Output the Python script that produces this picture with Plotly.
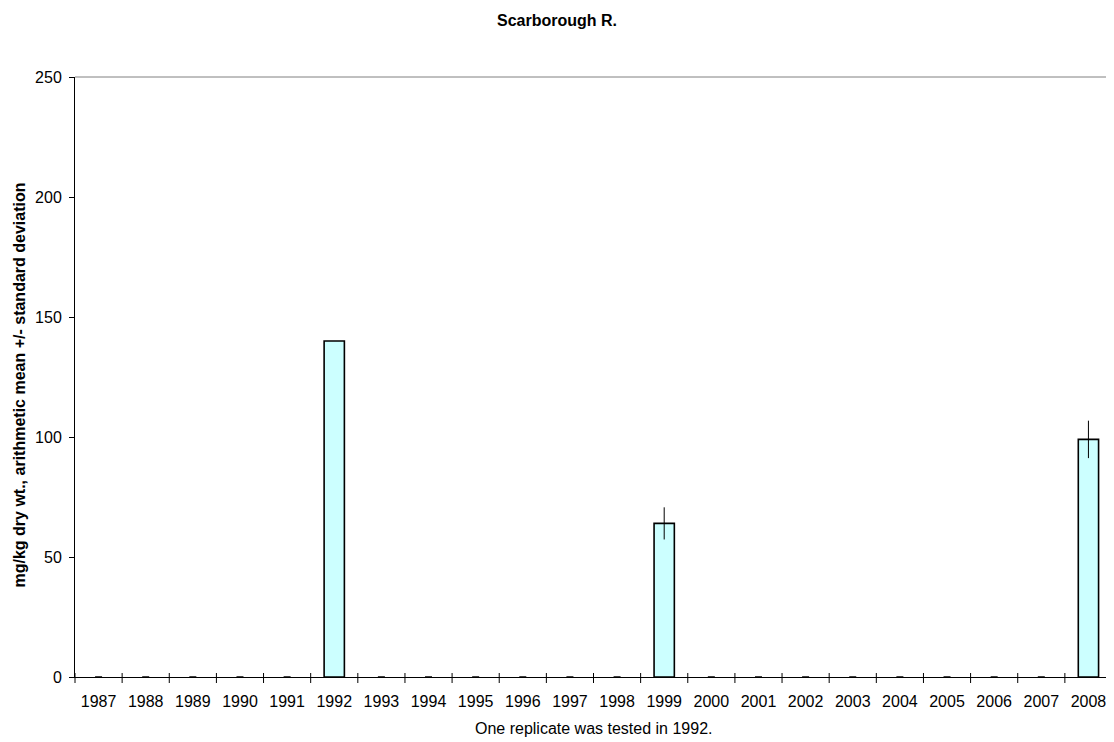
import plotly.graph_objects as go

years = [str(y) for y in range(1987, 2009)]
means = [0, 0, 0, 0, 0, 140, 0, 0, 0, 0, 0, 0, 64, 0, 0, 0, 0, 0, 0, 0, 0, 99]
sds = [0, 0, 0, 0, 0, 0, 0, 0, 0, 0, 0, 0, 6.7, 0, 0, 0, 0, 0, 0, 0, 0, 7.8]
has_sd = [False] * 12 + [True] + [False] * 8 + [True]
y_ticks = [0, 50, 100, 150, 200, 250]

bar_vals = [m if m > 0 else None for m in means]
err_vals = [s if h else None for s, h in zip(sds, has_sd)]
zero_years = [y for y, m in zip(years, means) if m == 0]
zero_vals = [0 for _ in zero_years]

font = "Liberation Sans, Arial, sans-serif"
# page body has an 8px margin, so the figure is drawn 8px smaller and everything shifted
W, H = 1106, 734
L, R, T, B = 67, 2, 69, 65
PH = H - T - B

fig = go.Figure()
fig.add_trace(go.Bar(
    x=years, y=bar_vals,
    width=0.43,
    marker=dict(color="#CCFFFF", line=dict(color="black", width=1.6)),
    error_y=dict(type="data", array=err_vals, color="black", thickness=1, width=0, visible=True),
    hoverinfo="x+y",
))
fig.add_trace(go.Scatter(
    x=zero_years, y=zero_vals, mode="markers",
    marker=dict(symbol="line-ew", size=5, line=dict(color="black", width=1.5)),
    hoverinfo="skip", cliponaxis=False,
))

fig.update_layout(
    width=W, height=H,
    paper_bgcolor="white", plot_bgcolor="white",
    showlegend=False,
    margin=dict(l=L, r=R, t=T, b=B, autoexpand=False),
    font=dict(family=font, size=16, color="black"),
    title=dict(text="<b>Scarborough R.</b>", x=549 / W, xref="container", xanchor="center",
               y=1 - 12 / H, yref="container", yanchor="middle",
               font=dict(size=16, family=font)),
)
fig.update_xaxes(
    type="category", range=[-0.5, len(years) - 0.5],
    showline=True, linecolor="black", linewidth=1,
    ticks="", showgrid=False, automargin=False,
    tickfont=dict(size=16), ticklabelstandoff=10,
)
fig.update_yaxes(
    range=[0, 250], tickvals=y_ticks, automargin=False,
    showline=True, linecolor="black", linewidth=1,
    ticks="outside", ticklen=5, tickcolor="black", showgrid=False, zeroline=False,
    tickfont=dict(size=16), ticklabelstandoff=4,
)
# axis captions
fig.add_annotation(
    text="<b>mg/kg dry wt., arithmetic mean +/- standard deviation</b>",
    xref="paper", yref="paper", textangle=-90,
    x=-(L - 10.5) / (W - L - R), y=1 - (377 - T) / PH,
    xanchor="center", yanchor="middle", showarrow=False, font=dict(size=16),
)
fig.add_annotation(
    text="One replicate was tested in 1992.", xref="paper", yref="paper",
    x=0.5, y=-(720 - (H - B)) / PH,
    xanchor="center", yanchor="middle", showarrow=False, font=dict(size=16),
)
# gray frame top/right and category divider ticks on x axis
fig.add_shape(type="line", xref="paper", yref="paper", x0=0, x1=1, y0=1, y1=1,
              line=dict(color="#808080", width=1))
fig.add_shape(type="line", xref="paper", yref="paper", x0=1, x1=1, y0=0, y1=1,
              line=dict(color="#808080", width=1))
n = len(years)
for i in range(n + 1):
    fig.add_shape(type="line", xref="paper", yref="paper",
                  x0=i / n, x1=i / n, y0=4 / PH, y1=-6 / PH,
                  line=dict(color="black", width=1))

fig.write_html("out.html")
